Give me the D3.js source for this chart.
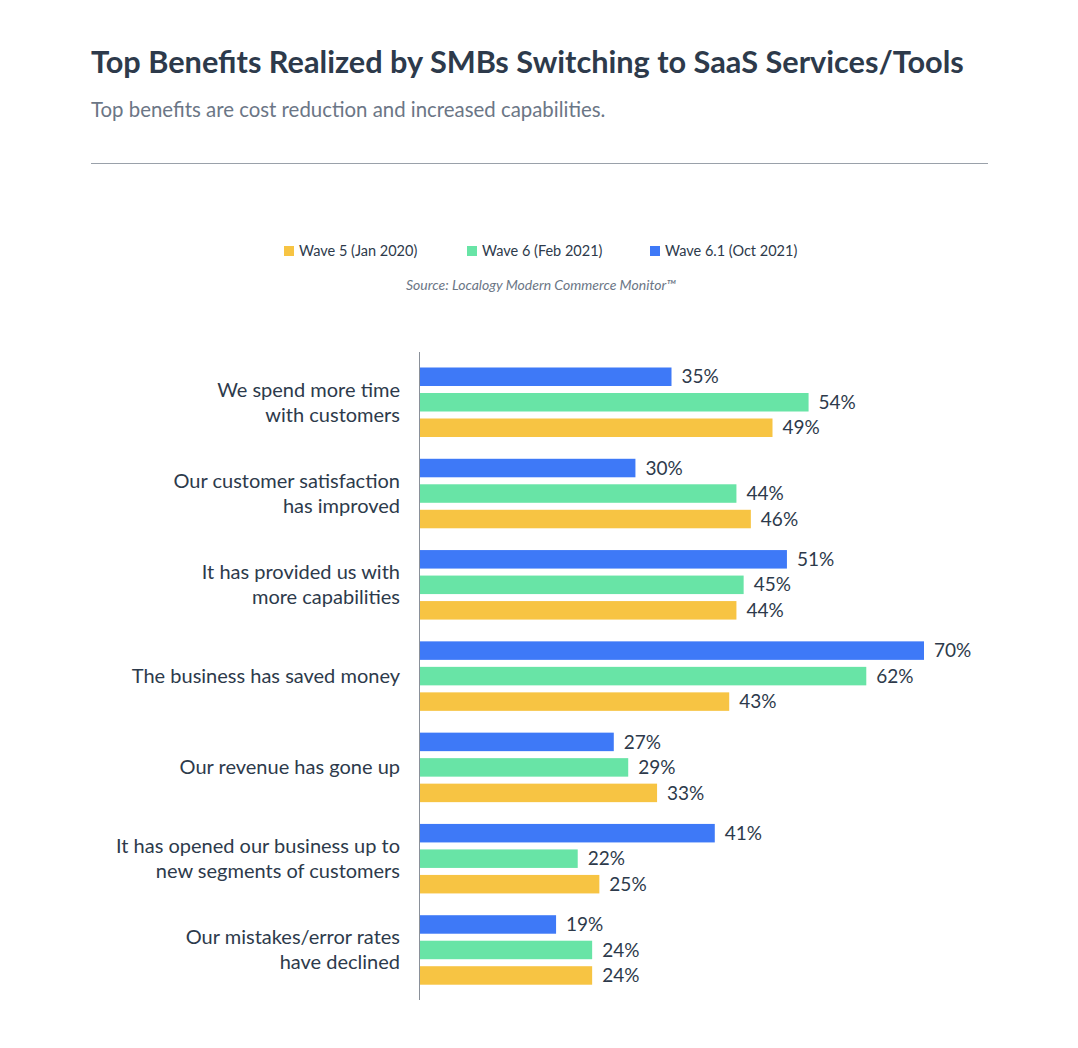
<!DOCTYPE html>
<html>
<head>
  <meta charset="utf-8">
  <script src="https://d3js.org/d3.v7.min.js"></script>
  <style>
    body { margin: 0; background: #fff; }
    text { font-family: Lato, "Noto Sans", sans-serif; }
  </style>
</head>
<body>
  <div id="chart"></div>
  <script>
    // data
    const categories = [
      ["We spend more time", "with customers"],
      ["Our customer satisfaction", "has improved"],
      ["It has provided us with", "more capabilities"],
      ["The business has saved money"],
      ["Our revenue has gone up"],
      ["It has opened our business up to", "new segments of customers"],
      ["Our mistakes/error rates", "have declined"]
    ];
    const seriesNames = ["Wave 5 (Jan 2020)", "Wave 6 (Feb 2021)", "Wave 6.1 (Oct 2021)"];
    const wave5 = [49, 46, 44, 43, 33, 25, 24];
    const wave6 = [54, 44, 45, 62, 29, 22, 24];
    const wave61 = [35, 30, 51, 70, 27, 41, 19];

    const colors = ["#f7c443", "#68e4a6", "#3e79f7"];
    const width = 1078;
    const height = 1048;

    const svg = d3.select("#chart")
      .append("svg")
      .attr("width", width)
      .attr("height", height);

    // header
    svg.append("text")
      .attr("x", 91).attr("y", 73)
      .attr("fill", "#2d3a4b")
      .style("font-size", "30.7px")
      .style("font-weight", "bold")
      .text("Top Benefits Realized by SMBs Switching to SaaS Services/Tools");

    svg.append("text")
      .attr("x", 91).attr("y", 117)
      .attr("fill", "#6b7686")
      .style("font-size", "20.4px")
      .text("Top benefits are cost reduction and increased capabilities.");

    svg.append("line")
      .attr("x1", 91).attr("x2", 988)
      .attr("y1", 163.5).attr("y2", 163.5)
      .attr("stroke", "#9aa1aa")
      .attr("stroke-width", 1);

    // legend
    const legendX = [284, 467, 650];
    const legend = svg.selectAll(".legend")
      .data(seriesNames)
      .enter().append("g")
      .attr("class", "legend")
      .attr("transform", (d, i) => "translate(" + legendX[i] + ",251)");

    legend.append("rect")
      .attr("x", 0).attr("y", -5)
      .attr("width", 10).attr("height", 10)
      .attr("fill", (d, i) => colors[i]);

    legend.append("text")
      .attr("x", 15).attr("y", 5)
      .attr("fill", "#2d3a4b")
      .style("font-size", "14.5px")
      .text(d => d);

    svg.append("text")
      .attr("x", 541).attr("y", 290)
      .attr("text-anchor", "middle")
      .attr("fill", "#6b7686")
      .style("font-size", "14px")
      .style("font-style", "italic")
      .text("Source: Localogy Modern Commerce Monitor\u2122");

    // scales
    const x = d3.scaleLinear().domain([0, 70]).range([419, 924]);

    const y = d3.scaleBand()
      .domain(d3.range(categories.length))
      .range([359, 998]);

    // top to bottom within a group: Oct 2021, Feb 2021, Jan 2020
    const order = [2, 1, 0];
    const yInner = d3.scaleBand()
      .domain(order)
      .range([8.5, 78])
      .paddingInner(0.2745);

    const rows = categories.map((c, i) => ({
      index: i,
      label: c,
      values: [wave5[i], wave6[i], wave61[i]]
    }));

    const group = svg.selectAll(".group")
      .data(rows)
      .enter().append("g")
      .attr("class", "group")
      .attr("transform", d => "translate(0," + y(d.index) + ")");

    const bars = group.selectAll(".bar")
      .data(d => d.values.map((v, s) => ({ s: s, v: v })))
      .enter();

    bars.append("rect")
      .attr("class", "bar")
      .attr("x", x(0))
      .attr("y", d => yInner(d.s))
      .attr("width", d => x(d.v) - x(0))
      .attr("height", yInner.bandwidth())
      .attr("fill", d => colors[d.s]);

    bars.append("text")
      .attr("x", d => x(d.v) + 10)
      .attr("y", d => yInner(d.s) + yInner.bandwidth() / 2)
      .attr("dy", "0.35em")
      .attr("fill", "#2d3a4b")
      .style("font-size", "19px")
      .text(d => d.v + "%");

    // category labels, centred on the middle bar
    group.append("text")
      .attr("text-anchor", "end")
      .attr("fill", "#2d3a4b")
      .style("font-size", "20px")
      .each(function(d) {
        const t = d3.select(this);
        const mid = yInner(1) + yInner.bandwidth() / 2;
        const lineH = 25;
        const start = mid - (d.label.length - 1) * lineH / 2;
        d.label.forEach((line, k) => {
          t.append("tspan")
            .attr("x", 400)
            .attr("y", start + k * lineH)
            .attr("dy", "0.35em")
            .text(line);
        });
      });

    // axis line
    svg.append("line")
      .attr("x1", x(0) + 0.5).attr("x2", x(0) + 0.5)
      .attr("y1", 352).attr("y2", 1000)
      .attr("stroke", "#8a9099")
      .attr("stroke-width", 1);
  </script>
</body>
</html>
